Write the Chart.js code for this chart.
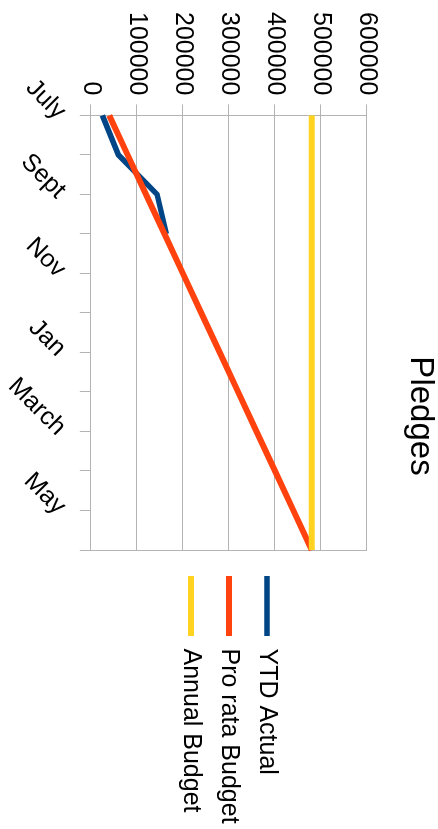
<!DOCTYPE html>
<html>
<head>
<meta charset="utf-8">
<title>Pledges</title>
<script src="https://cdn.jsdelivr.net/npm/chart.js@4/dist/chart.umd.min.js"></script>
<style>
  html, body { margin: 0; padding: 0; background: #fff; overflow: hidden; }
  body { width: 438px; height: 829px; position: relative; }
  /* the chart is laid out landscape and turned a quarter clockwise */
  #frame {
    position: absolute; left: 0; top: 0;
    width: 829px; height: 438px;
    transform-origin: 0 0;
    transform: translate(438px, 0) rotate(90deg);
  }
</style>
</head>
<body>
<div id="frame"><canvas id="pledges" width="829" height="438"></canvas></div>
<script>
// Fiscal-year months (July to June)
const months = ['July', 'Aug', 'Sept', 'Oct', 'Nov', 'Dec', 'Jan', 'Feb', 'March', 'April', 'May', 'June'];
// Only every other month is labelled on the axis
const monthTickLabels = ['July', '', 'Sept', '', 'Nov', '', 'Jan', '', 'March', '', 'May', ''];

// Pledges received so far this year
const ytdActual = [25000, 60000, 144000, 164000];
// Budget spread evenly across the months
const proRataBudget = [40000, 80000, 120000, 160000, 200000, 240000, 280000, 320000, 360000, 400000, 440000, 480000];
// Full-year budget
const annualBudget = [480000, 480000, 480000, 480000, 480000, 480000, 480000, 480000, 480000, 480000, 480000, 480000];

const valueTicks = [0, 100000, 200000, 300000, 400000, 500000, 600000];

const GRID = '#b3b3b3';
Chart.defaults.font.family = "'Liberation Sans', Arial, sans-serif";
Chart.defaults.font.size = 25;
Chart.defaults.color = '#000';

new Chart(document.getElementById('pledges'), {
  type: 'line',
  data: {
    labels: months,
    datasets: [
      { label: 'YTD Actual', data: ytdActual, borderColor: '#004586', backgroundColor: '#004586', borderWidth: 5.5, order: 3 },
      { label: 'Pro rata Budget', data: proRataBudget, borderColor: '#ff420e', backgroundColor: '#ff420e', borderWidth: 6, order: 2 },
      { label: 'Annual Budget', data: annualBudget, borderColor: '#ffd320', backgroundColor: '#ffd320', borderWidth: 6, order: 1 }
    ]
  },
  options: {
    responsive: false,
    animation: false,
    devicePixelRatio: 1,
    layout: { padding: { left: 3, right: 0, top: 0, bottom: 0 } },
    elements: { point: { radius: 0, hoverRadius: 0 }, line: { tension: 0, fill: false } },
    plugins: {
      title: {
        display: true,
        text: 'Pledges',
        font: { size: 33, weight: 'normal', lineHeight: 1 },
        color: '#000',
        padding: { top: 1, bottom: 37 }
      },
      legend: {
        position: 'right',
        fullSize: false,
        align: 'center',
        maxWidth: 266,
        labels: {
          usePointStyle: true,
          pointStyle: 'line',
          pointStyleWidth: 60,
          padding: 13,
          font: { size: 25 },
          color: '#000',
          sort: (a, b) => a.datasetIndex - b.datasetIndex
        }
      },
      tooltip: { enabled: false }
    },
    scales: {
      x: {
        type: 'category',
        offset: false,
        border: { display: true, color: GRID, width: 1 },
        grid: {
          color: (ctx) => (ctx.index === 0 || ctx.index === months.length - 1) ? GRID : 'rgba(0,0,0,0)',
          tickColor: GRID,
          tickLength: 11,
          lineWidth: 1
        },
        ticks: {
          autoSkip: false,
          maxRotation: 45,
          minRotation: 45,
          padding: 8,
          color: '#000',
          callback: (value, index) => monthTickLabels[index]
        },
        // the slanted month names may run into the page margin
        afterFit: (scale) => { scale.height -= 6.5; }
      },
      y: {
        min: valueTicks[0],
        max: valueTicks[valueTicks.length - 1],
        border: { display: true, color: GRID, width: 1 },
        grid: { color: GRID, tickColor: GRID, tickLength: 11, lineWidth: 1 },
        afterBuildTicks: (scale) => { scale.ticks = valueTicks.map(v => ({ value: v })); },
        ticks: { padding: 9, color: '#000', callback: (v) => String(v) }
      },
      gap: {
        position: 'right',
        display: true,
        grid: { display: false },
        border: { display: false },
        ticks: { display: false },
        afterFit: (scale) => { scale.width = 13; }
      }
    }
  }
});
</script>
</body>
</html>
